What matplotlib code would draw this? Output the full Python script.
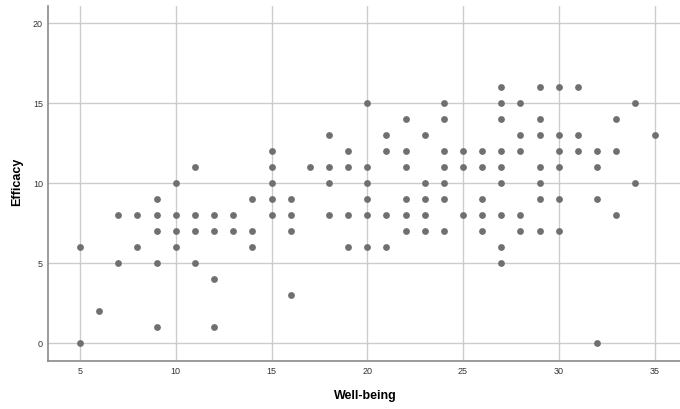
import matplotlib
matplotlib.use("Agg")
import matplotlib.pyplot as plt

plt.rcParams['font.family'] = ['Liberation Sans', 'DejaVu Sans']

# Well-being score per column, with the efficacy values found at that score
wellbeing = [5, 6, 7, 8, 9, 10, 11, 12, 13, 14, 15, 16, 17, 18, 19, 20,
             21, 22, 23, 24, 25, 26, 27, 28, 29, 30, 31, 32, 33, 34, 35]
efficacy = [
    [6, 0],
    [2],
    [8, 5],
    [8, 6],
    [9, 8, 7, 5, 1],
    [10, 8, 7, 6],
    [11, 8, 7, 5],
    [8, 7, 4, 1],
    [8, 7],
    [9, 7, 6],
    [12, 11, 10, 9, 8],
    [9, 8, 7, 3],
    [11],
    [13, 11, 10, 8],
    [12, 11, 8, 6],
    [15, 11, 10, 9, 8, 6],
    [13, 12, 8, 6],
    [14, 12, 11, 9, 8, 7],
    [13, 10, 9, 8, 7],
    [15, 14, 12, 11, 10, 9, 7],
    [12, 11, 8],
    [12, 11, 9, 8, 7],
    [16, 15, 14, 12, 11, 10, 8, 6, 5],
    [15, 13, 12, 8, 7],
    [16, 14, 13, 11, 10, 9, 7],
    [16, 13, 12, 11, 9, 7],
    [16, 13, 12],
    [12, 11, 9, 0],
    [14, 12, 8],
    [15, 10],
    [13],
]

xs = []
ys = []
for w, vals in zip(wellbeing, efficacy):
    for v in vals:
        xs.append(w)
        ys.append(v)

fig = plt.figure(figsize=(6.8, 4.09), dpi=100)
ax = fig.add_axes([0.0713, 0.1174, 0.9287, 0.868])

ax.scatter(xs, ys, s=24, color='#707070', zorder=3, linewidths=0)

ax.set_xlim(3.355, 36.33)
ax.set_ylim(-1.11, 21.08)
ax.set_xticks([5, 10, 15, 20, 25, 30, 35])
ax.set_yticks([0, 5, 10, 15, 20])
ax.grid(True, color='#cccccc', linewidth=1.0, zorder=0)
ax.set_axisbelow(True)

for side in ['top', 'right']:
    ax.spines[side].set_visible(False)
for side in ['left', 'bottom']:
    ax.spines[side].set_color('#8a8a8a')
    ax.spines[side].set_linewidth(1.2)

ax.tick_params(axis='both', length=0, labelsize=6.5, colors='#333333', pad=4)

ax.set_xlabel('Well-being', fontsize=9, fontweight='bold', va='center')
ax.set_ylabel('Efficacy', fontsize=9, fontweight='bold', va='center')
# label centres: x label ~396 px down, y label ~17.5 px from left
ax.xaxis.set_label_coords(0.501, (361 - 396.5) / 355)
ax.yaxis.set_label_coords((17.5 - 48.5) / 631.5, 0.505)

fig.savefig('out.png', dpi=100)
